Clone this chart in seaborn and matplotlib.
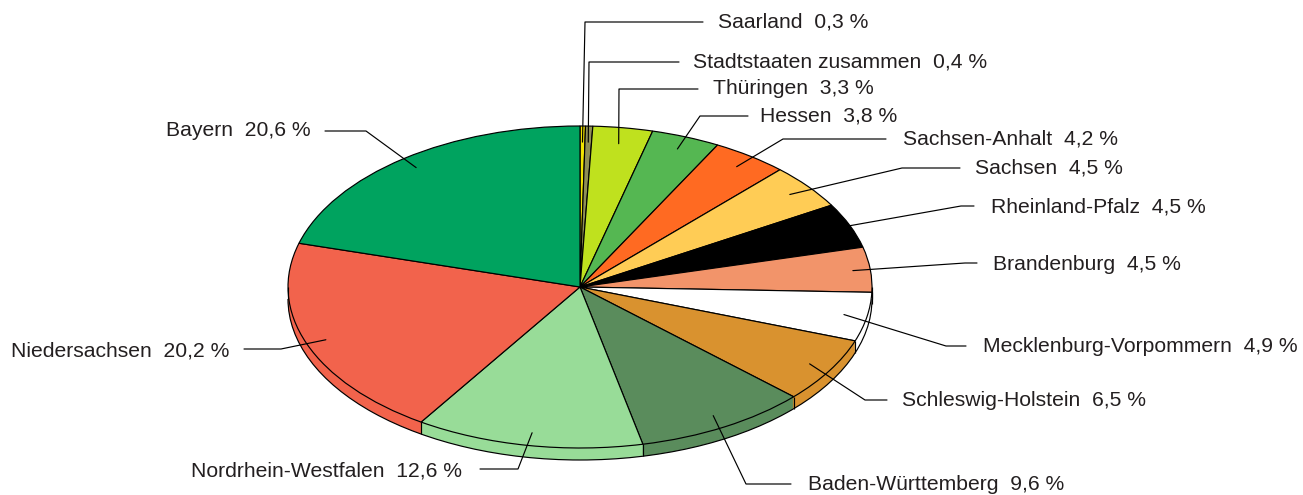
import numpy as np
import matplotlib
matplotlib.use("Agg")
import matplotlib.pyplot as plt
from matplotlib.patches import Arc
import seaborn as sns

# data (clockwise from 12 o'clock)
laender = ["Saarland", "Stadtstaaten zusammen", "Thüringen", "Hessen", "Sachsen-Anhalt",
           "Sachsen", "Rheinland-Pfalz", "Brandenburg", "Mecklenburg-Vorpommern",
           "Schleswig-Holstein", "Baden-Württemberg", "Nordrhein-Westfalen",
           "Niedersachsen", "Bayern"]
anteile = [0.3, 0.4, 3.3, 3.8, 4.2, 4.5, 4.5, 4.5, 4.9, 6.5, 9.6, 12.6, 20.2, 20.6]
farben = ["#f2e400", "#8f8f55", "#bfe11e", "#55b752", "#ff6a22", "#ffcc55", "#000000",
          "#f2946a", "#ffffff", "#d9922f", "#5a8c5c", "#98dc98", "#f2634c", "#00a35f"]

# label layout in pixels: text position, elbow, end of leader, anchor radius
text_pos = [(718, 22), (693, 62), (713, 89), (760, 116), (903, 139), (975, 168),
            (991, 207), (993, 264), (983, 347), (902, 400), (808, 484), (462, 471),
            (229, 351), (311, 131)]
elbows = [(585, 22), (589, 62), (619, 89), (700, 116), (783, 139), (902, 168),
          (961, 206), (965, 263), (946, 346), (865, 400), (746, 484), (518, 469),
          (281, 349), (366, 131)]
ends = [(703, 22), (679, 62), (698, 89), (748, 116), (886, 139), (960, 168),
        (974, 206), (977, 263), (966, 346), (887, 400), (791, 484), (480, 469),
        (244, 349), (325, 131)]
anchor_r = [0.9, 0.9, 0.9, 0.92, 0.92, 0.92, 0.99, 0.94, 0.92, 0.92, 0.92, 0.92, 0.93, 0.93]

W, H = 1303, 495
CX, CY, RX, RY = 580, 287, 292, 161
depth = 12 / RY


def px(x, y):
    return (x - CX) / RX, (CY - y) / RY


sns.set_theme(style="white")
plt.rcParams["font.family"] = ["Liberation Sans", "DejaVu Sans"]

fig = plt.figure(figsize=(W / 100, H / 100), dpi=100)
ax = fig.add_axes([0, 0, 1, 1])

# side wall: stacked copies of the pie shifted down
steps = 12
for k in range(steps, 0, -1):
    ax.pie(anteile, colors=farben, startangle=90, counterclock=False,
           center=(0, -depth * k / steps), radius=1,
           wedgeprops=dict(linewidth=0, antialiased=True))

# outline of the lower rim
ax.add_patch(Arc((0, -depth), 2, 2, theta1=180, theta2=360, color="black", lw=0.85))

# vertical edges where wedge borders meet the front of the wall
cum = np.concatenate([[0], np.cumsum(anteile) / np.sum(anteile)])
ang = np.deg2rad(90 - 360 * cum)
bx, by = np.cos(ang), np.sin(ang)
front = by < -0.02
ax.vlines(bx[front], by[front] - depth, by[front], color="black", lw=0.85)
ax.vlines([-1, 1], [-depth, -depth], [0, 0], color="black", lw=0.85)

# top face
ax.pie(anteile, colors=farben, startangle=90, counterclock=False, radius=1,
       wedgeprops=dict(edgecolor="black", linewidth=0.85))

# labels with leader lines
mid = np.deg2rad(90 - 360 * (cum[:-1] + cum[1:]) / 2)
for i, name in enumerate(laender):
    wert = f"{anteile[i]:.1f}".replace(".", ",")
    ax_x, ax_y = anchor_r[i] * np.cos(mid[i]), anchor_r[i] * np.sin(mid[i])
    ex, ey = px(*elbows[i])
    sx, sy = px(*ends[i])
    ax.plot([ax_x, ex, sx], [ax_y, ey, sy], color="black", lw=0.85)
    tx, ty = px(*text_pos[i])
    ha = "left" if text_pos[i][0] > CX else "right"
    ax.text(tx, ty, f"{name}  {wert} %", ha=ha, va="center", fontsize=15.2,
            color="#231f20")

ax.set_aspect("auto")
ax.set_xlim(-CX / RX, (W - CX) / RX)
ax.set_ylim(-(H - CY) / RY, CY / RY)
ax.axis("off")

fig.savefig("out.png", dpi=100, facecolor="white")
